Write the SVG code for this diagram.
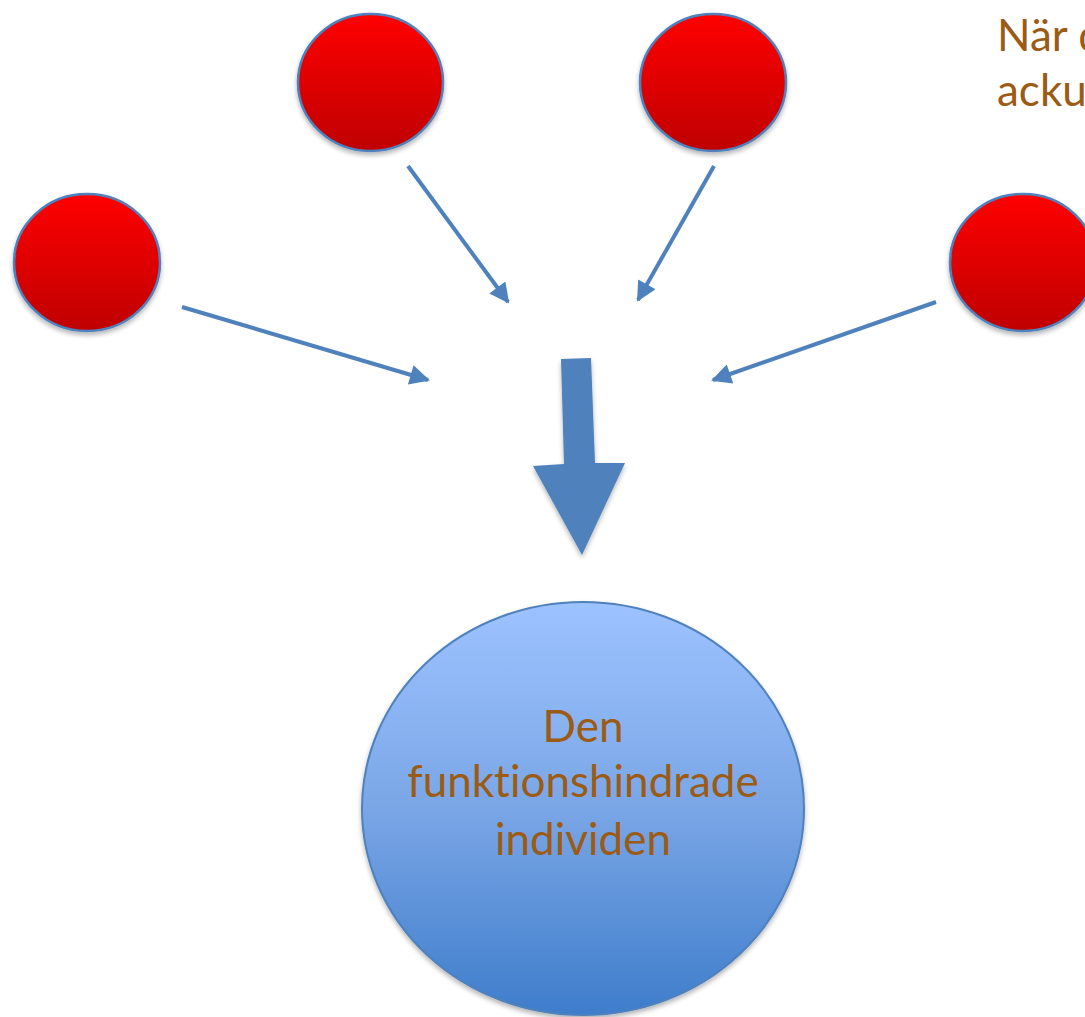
<svg xmlns="http://www.w3.org/2000/svg" width="1085" height="1017" viewBox="0 0 1085 1017">
<style>
.red{fill:url(#gRed);stroke:#4F81BD;stroke-width:2.5;filter:url(#sh)}
.conn{stroke:#4F81BD;stroke-width:4;fill:none;marker-end:url(#ah)}
.lbl{font-family:Lato,"Open Sans","Liberation Sans",sans-serif;font-size:44px;fill:#9C5B14;font-variant-ligatures:none;font-feature-settings:"liga" 0,"clig" 0}
</style>
<defs>
<linearGradient id="gRed" x1="0" y1="0" x2="0" y2="1"><stop offset="0" stop-color="#FF0000"/><stop offset="1" stop-color="#BF0000"/></linearGradient>
<linearGradient id="gBlue" x1="0" y1="0" x2="0" y2="1"><stop offset="0" stop-color="#9DC3FF"/><stop offset="0.5" stop-color="#7AA6E6"/><stop offset="1" stop-color="#3E7DCB"/></linearGradient>
<filter id="sh" x="-20%" y="-20%" width="140%" height="140%"><feGaussianBlur in="SourceAlpha" stdDeviation="2.5"/><feOffset dx="0" dy="3" result="b"/><feComponentTransfer><feFuncA type="linear" slope="0.3"/></feComponentTransfer><feMerge><feMergeNode/><feMergeNode in="SourceGraphic"/></feMerge></filter>
<marker id="ah" viewBox="0 0 10 10" refX="9" refY="5" markerWidth="5.5" markerHeight="5" orient="auto" markerUnits="strokeWidth"><path d="M0,0 L10,5 L0,10 z" fill="#4F81BD"/></marker>
</defs>
<g id="node-top-left"><ellipse class="red" cx="370.5" cy="82.5" rx="72.5" ry="68.5"/></g>
<g id="node-top-right"><ellipse class="red" cx="713" cy="82.5" rx="73" ry="68.5"/></g>
<g id="node-left"><ellipse class="red" cx="87" cy="262.5" rx="73" ry="68.5"/></g>
<g id="node-right"><ellipse class="red" cx="1023" cy="262.5" rx="73" ry="68.5"/></g>
<g id="connectors">
<line class="conn" x1="182" y1="307" x2="428" y2="380"/>
<line class="conn" x1="408" y1="166" x2="508" y2="302"/>
<line class="conn" x1="714" y1="166" x2="638" y2="300"/>
<line class="conn" x1="936" y1="302" x2="713" y2="380"/>
<path d="M561,359 L591,358 L595,463 L625,463 L582,555 L533,466 L564,464 Z" fill="#4F81BD" filter="url(#sh)"/>
</g>
<g id="node-individ">
<ellipse cx="583" cy="808.5" rx="221" ry="206.5" fill="url(#gBlue)" stroke="#4F81BD" stroke-width="2" filter="url(#sh)"/>
<text class="lbl" text-anchor="middle" x="583" y="742">Den</text>
<text class="lbl" text-anchor="middle" x="583" y="797">funktionshindrade</text>
<text class="lbl" text-anchor="middle" x="583" y="855">individen</text>
</g>
<g id="caption">
<text class="lbl" x="997" y="51">När d</text>
<text class="lbl" x="997" y="106">acku</text>
</g>
</svg>
